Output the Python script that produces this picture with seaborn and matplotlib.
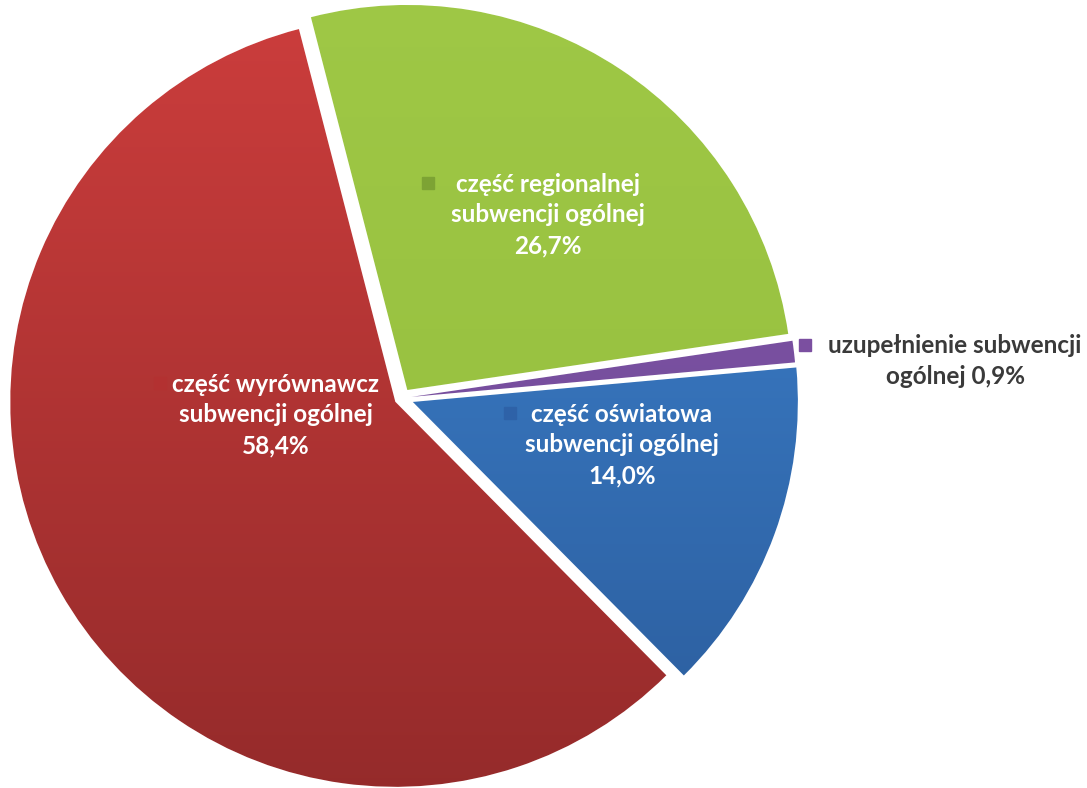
import numpy as np
import matplotlib.pyplot as plt
import seaborn as sns
from matplotlib.colors import LinearSegmentedColormap

# data (clockwise from the top)
names = ["część regionalnej\nsubwencji ogólnej", "uzupełnienie subwencji\nogólnej",
         "część oświatowa\nsubwencji ogólnej", "część wyrównawcz\nsubwencji ogólnej"]
shares = [26.7, 0.9, 14.0, 58.4]
share_txt = ["26,7%", "0,9%", "14,0%", "58,4%"]

col_top = ["#9FC846", "#8459AC", "#4088D6", "#CE3E3D"]
col_bot = ["#93BC3C", "#6A4490", "#2A5A99", "#932A2A"]
col_key = ["#7DA334", "#7B4FA0", "#2E62A8", "#B33131"]

sns.set_theme(style="white")
plt.rcParams["font.family"] = ["Lato", "DejaVu Sans"]

# pixel -> data helper (pie centre ~ (402, 398) px, radius ~385 px)
cx, cy, R = 402, 398, 385
def p2d(px, py):
    return (px - cx) / R, (cy - py) / R

fig = plt.figure(figsize=(10.87, 7.88), dpi=100)
ax = fig.add_axes([0, 0, 1, 1])
wedges, _ = ax.pie(shares, startangle=104.5, counterclock=False,
                   explode=[0.025, 0.025, 0.03, 0.02], colors=col_top,
                   wedgeprops=dict(edgecolor="white", linewidth=1.0))

# vertical gradient inside each slice
grad = np.linspace(0, 1, 256).reshape(-1, 1)
for w, c0, c1 in zip(wedges, col_top, col_bot):
    cmap = LinearSegmentedColormap.from_list("g", [c0, c1])
    im = ax.imshow(grad, cmap=cmap, extent=[-1.1, 1.1, -1.1, 1.1],
                   aspect="auto", zorder=1, origin="upper")
    im.set_clip_path(w)

x0, y1 = p2d(0, 0)
x1, y0 = p2d(1087, 788)
ax.set_xlim(x0, x1)
ax.set_ylim(y0, y1)
ax.axis("off")

# label placement (pixels): text centre x, first line y, key square x
label_pos = [(548, 183, 428), (955, 345, 805), (622, 413, 510), (276, 383, 160)]
txt_col = ["white", "#3a3a3a", "white", "white"]
line_h = 32
for i, (tx, ty, kx) in enumerate(label_pos):
    if i == 1:
        text = names[i] + " " + share_txt[i]
    else:
        text = names[i] + "\n" + share_txt[i]
    nlines = text.count("\n") + 1
    mid = ty + (nlines - 1) / 2 * line_h
    ax.text(*p2d(tx, mid), text, ha="center", va="center", fontsize=17.5,
            fontweight="bold", color=txt_col[i], linespacing=1.42, zorder=3,
            multialignment="center")
    ax.plot(*p2d(kx, ty), marker="s", markersize=8.5, color=col_key[i],
            zorder=3, clip_on=False)

fig.savefig("out.png", dpi=100)
